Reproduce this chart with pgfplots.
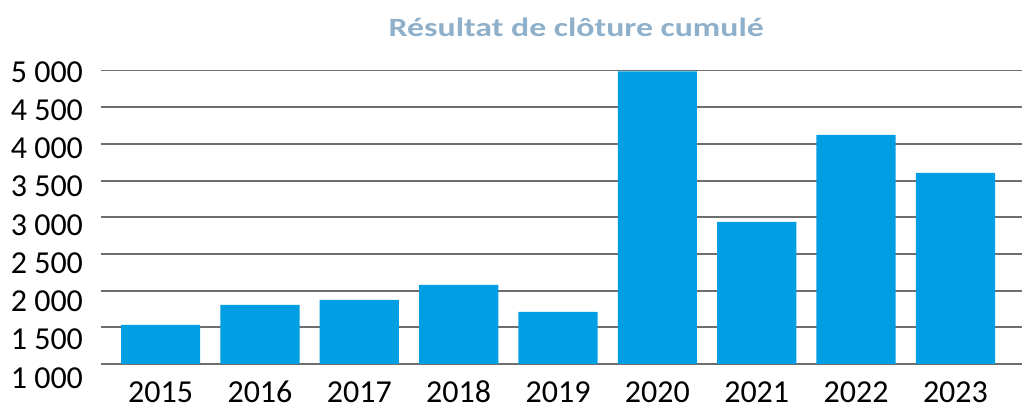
\documentclass[border=0pt]{standalone}
\usepackage{pgfplots}
\pgfplotsset{compat=1.18}
\usepackage{fontspec}
\setmainfont{Carlito}[Numbers=Lining]
\newfontfamily\tickfont{Carlito}[RawFeature={+lnum;-onum}]
\definecolor{barblue}{HTML}{009FE3}
\definecolor{titlecol}{HTML}{8EB0CA}
\definecolor{gridcol}{HTML}{6E6E6E}
\newcommand\yl[2]{\raisebox{#1}[\height][\depth]{#2}}
\begin{document}
\begin{tikzpicture}
\path[use as bounding box] (-50.5pt,-20.5pt) rectangle (461.5pt,182pt);
\begin{axis}[
  scale only axis, width=460.5pt, height=146.7pt,
  xmin=-0.6, xmax=8.67, ymin=1000, ymax=5000,
  clip mode=individual,
  ybar, bar width=39.6pt,
  axis line style={draw=none},
  major tick length=0pt,
  ytick={1000,1500,2000,2500,3000,3500,4000,4500,5000},
  yticklabels={\yl{-7pt}{1 000},\yl{-6.2pt}{1 500},\yl{-5.4pt}{2 000},\yl{-4.6pt}{2 500},\yl{-3.8pt}{3 000},\yl{-3pt}{3 500},\yl{-2.2pt}{4 000},\yl{-1.4pt}{4 500},\yl{-0.65pt}{5 000}},
  xtick={0,1,2,3,4,5,6,7,8},
  xticklabels={\mbox{2015},\mbox{2016},\mbox{2017},\mbox{2018},\mbox{2019},\mbox{2020},\mbox{2021},\mbox{2022},\mbox{2023}},
  ymajorgrids, grid style={gridcol, line width=0.9pt},
  tick label style={font=\tickfont\fontsize{16}{19}\selectfont, text=black},
  yticklabel style={xshift=-5.5pt},
  xticklabel style={inner ysep=0.5pt, yshift=-8.6pt, text height=10pt, text depth=0pt},
]
\addplot[fill=barblue, draw=none] coordinates {
  (0,1532) (1,1805) (2,1873) (3,2077) (4,1709) (5,4988) (6,2936) (7,4123) (8,3605)
};
\node[anchor=base, font=\fontsize{13.2}{16}\selectfont\bfseries, text=titlecol] at (rel axis cs:0.516,1) [yshift=16.8pt] {\scalebox{1.28}[1]{Résultat de clôture cumulé}};
\end{axis}
\end{tikzpicture}
\end{document}
